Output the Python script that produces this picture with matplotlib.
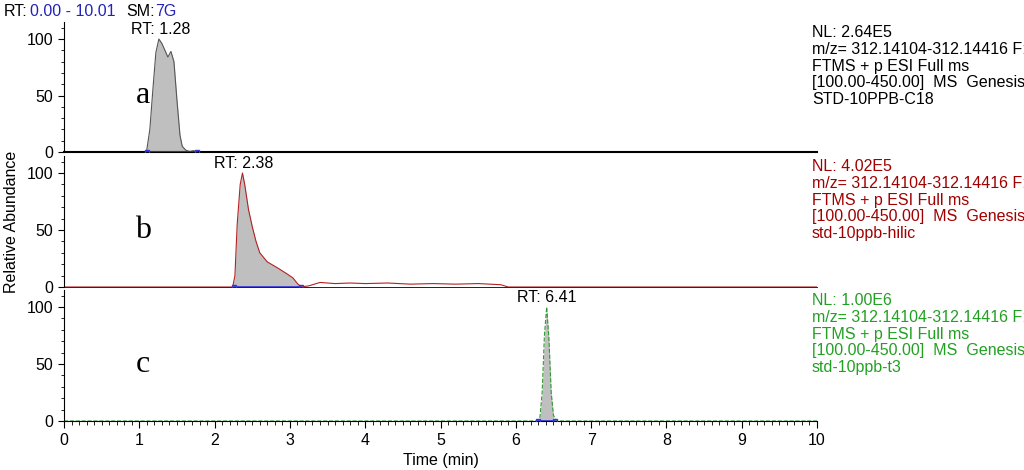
import matplotlib
matplotlib.use("Agg")
import matplotlib.pyplot as plt
import numpy as np
from matplotlib.ticker import MultipleLocator

plt.rcParams['font.family'] = ['Liberation Sans', 'DejaVu Sans']

# Trace a
ta = [0, 1.08, 1.10, 1.14, 1.18, 1.22, 1.26, 1.30, 1.34, 1.38, 1.42, 1.46, 1.50, 1.54, 1.57, 1.62, 1.67, 1.72, 1.76, 10.01]
ya = [0, 0, 2, 20, 55, 88, 100, 96, 90, 84, 89, 80, 46, 15, 5, 1.5, 0.5, 1.2, 0, 0]
# Trace b
tb = [0, 2.24, 2.27, 2.30, 2.34, 2.37, 2.40, 2.45, 2.50, 2.55, 2.60, 2.70, 2.83, 2.95, 3.04, 3.10, 3.15, 3.25, 3.4, 3.6, 3.8, 4.0, 4.3, 4.6, 4.9, 5.2, 5.5, 5.8, 5.9, 10.01]
yb = [0, 0, 10, 55, 90, 100, 90, 68, 53, 40, 30, 22, 17, 12, 8, 3, 0, 1, 4, 3, 3.5, 3, 3.5, 2.5, 3, 2.5, 3, 2, 0, 0]
# Trace c
tc = [0, 6.28, 6.32, 6.35, 6.38, 6.41, 6.44, 6.47, 6.50, 6.54, 10.01]
yc = [0, 0, 3, 25, 75, 100, 72, 25, 5, 0, 0]

labels = ['a', 'b', 'c']
colors = ['#555555', '#b22222', '#2e9b2e']
rts = ['RT: 1.28', 'RT: 2.38', 'RT: 6.41']
rt_x = [1.28, 2.38, 6.41]
names = ['STD-10PPB-C18', 'std-10ppb-hilic', 'std-10ppb-t3']
nls = ['NL: 2.64E5', 'NL: 4.02E5', 'NL: 1.00E6']
txtcol = ['black', '#a00000', '#22a022']
int_ranges = [(1.10, 1.76), (2.26, 3.15), (6.30, 6.52)]

fig = plt.figure(figsize=(10.24, 4.7), dpi=100)
W, H = 1024, 470
FS = 11.5
zeros = [152, 287, 421]
hundreds = [39, 173, 307]
traces = [(ta, ya), (tb, yb), (tc, yc)]
for i in range(3):
    y0, y1 = zeros[i], hundreds[i]
    top = y0 - (y0 - y1) * 1.15
    ax = fig.add_axes([64 / W, 1 - y0 / H, (817 - 64) / W, (y0 - top) / H])
    t, y = traces[i]
    tt = np.array(t); yy = np.array(y)
    a0, a1 = int_ranges[i]
    m = (tt >= a0 - 0.02) & (tt <= a1 + 0.02)
    ax.fill_between(tt, 0, yy, where=m, color='#bfbfbf', lw=0)
    ax.plot(t, y, color=colors[i], lw=0.8, ls='-' if i != 2 else '--')
    ax.plot([a0, a1], [0, 0], color='#3333dd', lw=1.2, marker='s', ms=3, mfc='none', zorder=5)
    ax.set_xlim(0, 10)
    ax.set_ylim(0, 115)
    ax.spines['top'].set_visible(False)
    ax.spines['right'].set_visible(False)
    ax.set_yticks([0, 50, 100])
    ax.yaxis.set_minor_locator(MultipleLocator(10))
    ax.tick_params(axis='y', labelsize=FS, length=4)
    ax.tick_params(axis='y', which='minor', length=2)
    ax.patch.set_alpha(0)
    if i < 2:
        ax.tick_params(axis='x', bottom=False, labelbottom=False)
        ax.spines['bottom'].set_linewidth(1.5 if i == 0 else 0.6)
    else:
        ax.xaxis.set_major_locator(MultipleLocator(1))
        ax.xaxis.set_minor_locator(MultipleLocator(0.1))
        ax.tick_params(axis='x', labelsize=FS, length=5)
        ax.tick_params(axis='x', which='minor', length=3)
        ax.set_xlabel('Time (min)', fontsize=FS)
    ax.text(rt_x[i], 102, rts[i], ha='center', va='bottom', fontsize=FS)
    ax.text(1.05, 50, labels[i], fontsize=23, family='Liberation Serif', ha='center', va='center')
    lines = [nls[i], 'm/z= 312.14104-312.14416 F:', 'FTMS + p ESI Full ms', '[100.00-450.00]  MS  Genesis', names[i]]
    fig.text(812 / W, 1 - (y1 - 14) / H, "\n".join(lines), fontsize=FS, color=txtcol[i],
             va='top', ha='left', linespacing=1.15)
    if i == 1:
        ax.set_ylabel('Relative Abundance', fontsize=FS, labelpad=6)

fig.text(4 / W, 1 - 12 / H, 'RT:', fontsize=FS, va='center')
fig.text(30 / W, 1 - 12 / H, '0.00 - 10.01', fontsize=FS, va='center', color='#2222bb')
fig.text(126 / W, 1 - 12 / H, 'SM:', fontsize=FS, va='center')
fig.text(155 / W, 1 - 12 / H, '7G', fontsize=FS, va='center', color='#2222bb')
fig.savefig('out.png', dpi=100)
